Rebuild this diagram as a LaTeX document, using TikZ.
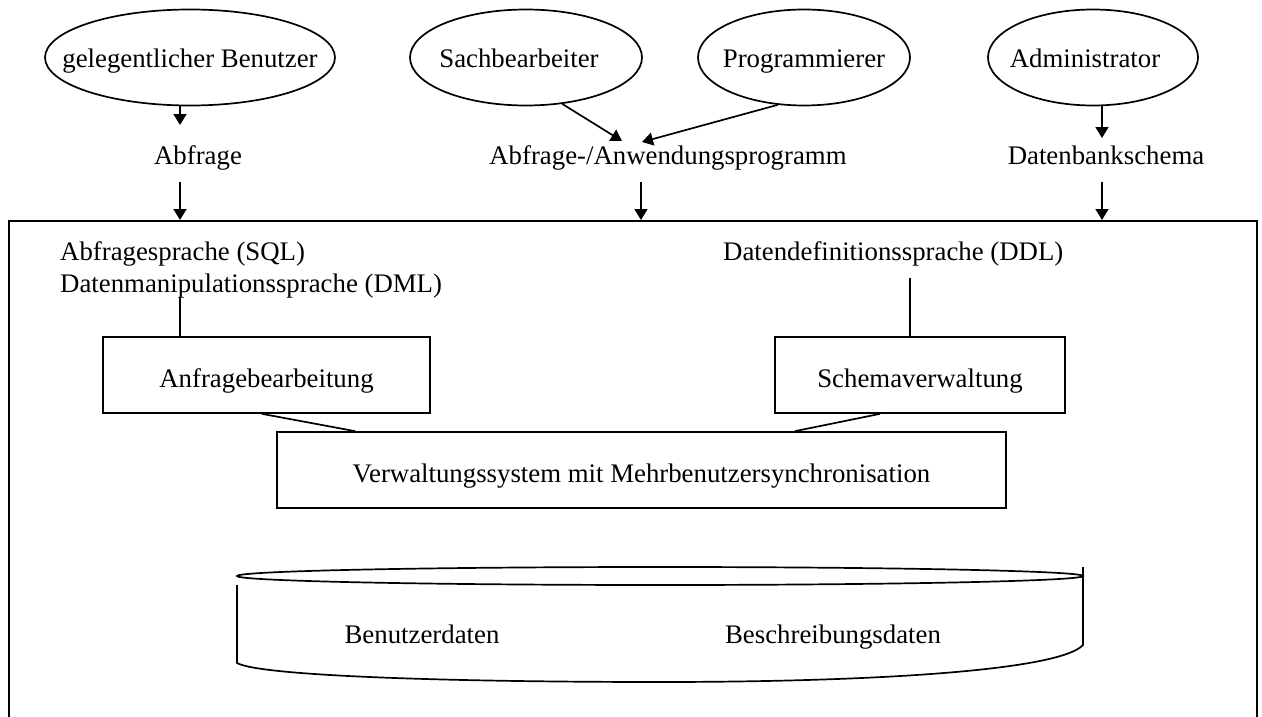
\documentclass[tikz,border=0pt]{standalone}
\usepackage{fontspec}
\setmainfont{Liberation Serif}
\usetikzlibrary{shapes.geometric,arrows.meta}
\begin{document}
\begin{tikzpicture}[x=1pt,y=-1pt,
  every node/.style={font=\fontsize{26.8}{31}\selectfont},
  conn/.style={draw,line width=1.7pt},
  arr/.style={conn,-{Triangle[length=11pt,width=13pt]}},
  actor/.style={draw,ellipse,line width=1.7pt,minimum height=96pt,inner sep=0pt,
    text height=20pt,text depth=0pt},
  procbox/.style={draw,rectangle,line width=1.7pt,minimum height=76pt,inner sep=0pt,
    text height=25pt,text depth=0pt},
  txt/.style={inner sep=0pt}]
\useasboundingbox (0,0) rectangle (1262,717);
\clip (0,0) rectangle (1262,717);

% users (text boxed at zero width so the ellipse keeps its given size)
\node[actor,minimum width=290pt] (gb) at (190,57.5) {\makebox[0pt]{gelegentlicher Benutzer}};
\node[actor,minimum width=232pt] (sb) at (526,57.5) {\makebox[0pt]{Sachbearbeiter\hspace{14pt}}};
\node[actor,minimum width=212pt] (pg) at (804,57.5) {\makebox[0pt]{Programmierer}};
\node[actor,minimum width=210pt] (ad) at (1093,57.5) {\makebox[0pt]{Administrator\hspace{16pt}}};

% what the users hand over
\node[txt,anchor=base] (abq) at (198,164) {Abfrage};
\node[txt,anchor=base] (awp) at (668,164) {Abfrage-/Anwendungsprogramm};
\node[txt,anchor=base] (dbsch) at (1106,164) {Datenbankschema};

% database system frame (open at the bottom)
\node[draw,line width=1.7pt,minimum width=1248pt,minimum height=540pt,inner sep=0pt,anchor=north west] (dbs) at (8,220) {};

% arrow end points
\coordinate (c1) at (180,125);
\coordinate (c2) at (622,141);
\coordinate (c3) at (642,142);
\coordinate (c4) at (1102,138);
\coordinate (d1) at (180,182);
\coordinate (d2) at (641,182);
\coordinate (d3) at (1102,182);

\draw[arr] (gb.south -| c1) -- (c1);
\draw[arr] (sb.-52) -- (c2);
\draw[arr] (pg.-119) -- (c3);
\draw[arr] (ad.south -| c4) -- (c4);
\draw[arr] (d1) -- (d1 |- dbs.north);
\draw[arr] (d2) -- (d2 |- dbs.north);
\draw[arr] (d3) -- (d3 |- dbs.north);

% languages
\node[txt,anchor=base west] (sql) at (60,260) {Abfragesprache (SQL)};
\node[txt,anchor=base west] (dml) at (60,292) {Datenmanipulationssprache (DML)};
\node[txt,anchor=base west] (ddl) at (723,260) {Datendefinitionssprache (DDL)};

% processing components
\node[procbox,minimum width=327pt] (anf) at (266.5,375) {Anfragebearbeitung};
\node[procbox,minimum width=290pt] (sv) at (920,375) {Schemaverwaltung};
\node[procbox,minimum width=729pt] (vs) at (641.5,470) {Verwaltungssystem mit Mehrbenutzersynchronisation};

\coordinate (e1) at (180,297);
\coordinate (e2) at (910,278);
\draw[conn] (e1) -- (e1 |- anf.north);
\draw[conn] (e2) -- (e2 |- sv.north);
\draw[conn] ([xshift=-4.5pt]anf.south) -- ([xshift=-286.5pt]vs.north);
\draw[conn] ([xshift=-40pt]sv.south) -- ([xshift=153.5pt]vs.north);

% data store
\draw[conn] (660,576) ellipse [x radius=423, y radius=9];
\draw[conn] (237,585) -- (237,663)
  .. controls (260,676) and (450,682) .. (660,682)
  .. controls (880,682) and (1060,670) .. (1083,645) -- (1083,567);
\node[txt,anchor=base] (bd) at (422,643) {Benutzerdaten};
\node[txt,anchor=base] (bsd) at (833,643) {Beschreibungsdaten};
\end{tikzpicture}
\end{document}
